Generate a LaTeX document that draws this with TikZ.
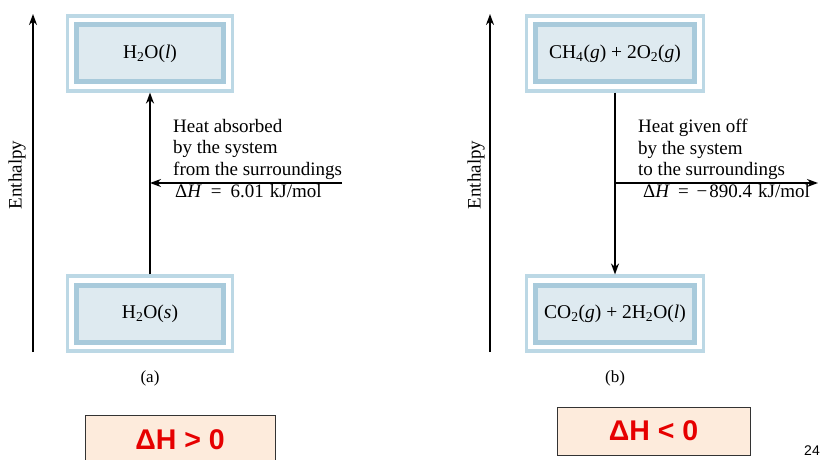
\documentclass[tikz,border=0pt]{standalone}
\usepackage{fontspec}
\setmainfont{Liberation Serif}
\setsansfont{Liberation Sans}
\usetikzlibrary{arrows.meta,fit}
\definecolor{boxfill}{HTML}{DEEAF0}
\definecolor{boxframe}{HTML}{A8CADB}
\definecolor{boxrim}{HTML}{BCD8E5}
\definecolor{signfill}{HTML}{FDEBDC}
\definecolor{signred}{HTML}{E60000}
\tikzstyle{statebox}=[draw=boxframe, fill=boxfill, line width=5pt,
	minimum width=147pt, minimum height=57pt, font=\fontsize{19.5}{22}\selectfont]
\tikzstyle{rim}=[draw=boxrim, line width=3.5pt, inner sep=6.3pt]
\tikzstyle{flow}=[line width=2pt, -{Stealth[length=11pt,width=8pt]}]
\tikzstyle{note}=[inner sep=0pt, align=left, font=\fontsize{19}{21.5}\selectfont]
\tikzstyle{sign}=[draw=black!80, fill=signfill, line width=1pt, text=signred,
	font=\sffamily\bfseries\fontsize{28.5}{32}\selectfont]

\begin{document}
\begin{tikzpicture}[x=1pt, y=1pt]
\useasboundingbox (0,0) rectangle (822,-460);
% enthalpy axes
\coordinate (baseA) at (33,-352);
\coordinate (topA) at (33,-14);
\coordinate (baseB) at (490,-352);
\coordinate (topB) at (490,-14);
\draw[flow] (baseA) -- (topA);
\draw[flow] (baseB) -- (topB);
\node[rotate=90, font=\fontsize{19}{22}\selectfont] (enthA) at (17,-175) {Enthalpy};
\node[rotate=90, font=\fontsize{19}{22}\selectfont] (enthB) at (476,-175) {Enthalpy};
% states
\node[statebox] (liq) at (150,-53.5) {H\textsubscript{2}O(\textit{l})};
\node[statebox] (sol) at (150,-313.5) {H\textsubscript{2}O(\textit{s})};
\node[statebox, minimum width=159pt] (reac) at (615,-53.5)
	{CH\textsubscript{4}(\textit{g}) + 2O\textsubscript{2}(\textit{g})};
\node[statebox, minimum width=159pt] (prod) at (615,-313.5)
	{CO\textsubscript{2}(\textit{g}) + 2H\textsubscript{2}O(\textit{l})};
\foreach \n in {liq,sol,reac,prod}
	\node[rim, fit=(\n)] (\n rim) {};
\draw[flow] (solrim) -- (liqrim);
\draw[flow] (reacrim) -- (prodrim);
% heat flow
\coordinate (inA) at (342,-183);
\coordinate (outB) at (818,-183);
\draw[flow] (inA) -- (inA -| liq);
\draw[flow] (outB -| reac) -- (outB);
\node[note, anchor=north west] (heatA) at (173,-119)
	{Heat absorbed\\by the system\\from the surroundings};
\node[note, anchor=base west] (dhA) at (175,-197.5)
	{Δ\textit{H}\hspace{9pt}=\hspace{9pt}6.01\hspace{6pt}kJ/mol};
\node[note, anchor=north west] (heatB) at (638,-119)
	{Heat given off\\by the system\\to the surroundings};
\node[note, anchor=base west] (dhB) at (643,-197.5)
	{Δ\textit{H}\hspace{8pt}=\hspace{8pt}−\hspace{2pt}890.4\hspace{6pt}kJ/mol};
\node[font=\fontsize{17}{20}\selectfont] (capA) at (150,-378) {(a)};
\node[font=\fontsize{17}{20}\selectfont] (capB) at (615,-378) {(b)};
% signs
\node[sign, minimum width=190pt, minimum height=50pt] (signA) at (180,-440) {ΔH > 0};
\node[sign, minimum width=193pt, minimum height=48pt] (signB) at (653.5,-431) {ΔH < 0};
\node[font=\sffamily\fontsize{14}{16}\selectfont] (page) at (812,-451) {24};
\end{tikzpicture}
\end{document}
